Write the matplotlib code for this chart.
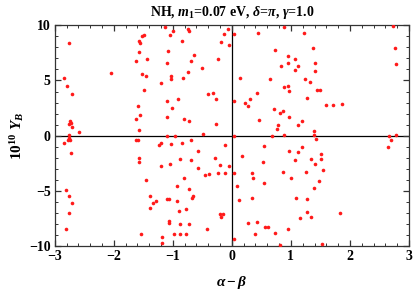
import matplotlib
matplotlib.use("Agg")
import matplotlib.pyplot as plt
from matplotlib.ticker import MultipleLocator

plt.rcParams['font.family'] = ['Liberation Serif', 'DejaVu Serif']
plt.rcParams['mathtext.fontset'] = 'custom'
plt.rcParams['mathtext.rm'] = 'Liberation Serif:bold'
plt.rcParams['mathtext.it'] = 'Liberation Serif:italic:bold'
plt.rcParams['mathtext.bf'] = 'Liberation Serif:bold'

title = r"NH, $m_1$=0.07 eV, $\delta$=$\pi$, $\gamma$=1.0"
xlabel = r"$\alpha-\beta$"
ylabel = r"$10^{10}\ Y_B$"
xticks = [-3, -2, -1, 0, 1, 2, 3]
yticks = [-10, -5, 0, 5, 10]

alpha_minus_beta = [
    -2.75, -2.05, -2.85, -2.79, -2.71, -2.74, -2.76, -2.72, -2.71, -2.59, -2.76, -2.76, -2.77, -2.74, -2.85,
    -1.62, -1.59, -1.57, -1.58, -1.62, -1.59, -1.55, -1.63, -1.58,
    -1.13, -0.99, -0.75, -0.72, -0.06, -1.49, -1.52, -1.05, -0.13, -1.55, -0.85, -0.19, -0.05, 0.03, 0.44,
    -1.08, -1.44, -1.10, -0.64, -0.70, -0.23, -0.51, -0.75, -1.52, -1.46, -1.03, -1.03, -0.83, -1.20, 0.14,
    0.64, -1.49, -0.32, -0.40, -0.26, -0.91, -1.10, 0.03, 0.30, 0.23, 0.28, 0.42, -1.01, -1.10, -0.81, -0.72,
    -0.27, 0.46, -0.48, -1.10, -0.97, -0.69, 0.03, -1.20, -1.24, -1.03, -0.85, -0.11, 0.55,
    -0.57, -1.58, -1.58, -1.20, -1.05, -0.88, -0.70, -0.28, 0.17, 0.53, -0.20, -0.05, -0.57, -0.46, -0.38,
    -0.23, -0.11, 0.03, 0.34, 0.36, -0.81, -1.46, 0.55, -0.93, 0.08, -0.72, -1.38, -0.68, -0.65, -1.09,
    -1.06, -0.93, 0.12, 0.34, -1.29, -1.34, -1.38, -0.90, -0.77, -0.20, -0.15, -0.19, -1.07, -1.07, -0.88,
    -0.72, -0.42, 0.28, 0.42, -1.53, -0.98, -0.88, -0.77, -1.18, -1.18, 0.40, 0.03,
    -2.73, -2.81, -2.75, -2.71, -2.75, -2.81,
    0.89, 1.22, 2.73, 0.73, 1.38, 2.76, 0.95, 1.07, 0.95, 1.41, 2.78, 0.84, 1.12, 1.07, 1.41, 1.24, 1.32,
    0.89, 0.95, 0.97, 1.45, 1.50, 1.28, 1.59, 1.71, 1.86, 0.71, 0.87, 0.81, 0.97, 1.19, 1.12, 0.78, 0.77,
    1.39, 0.89, 1.39, 1.43, 0.68, 2.67, 2.70, 2.78, 1.19, 2.64,
    0.97, 1.12, 1.07, 1.34, 1.51, 1.51, 1.41, 1.55, 0.87, 1.26, 1.00, 1.47, 1.39, 1.08, 1.28, 1.28, 1.34,
    1.15, 1.83, 0.57, 0.62, 0.73, 0.95, 0.81, 1.53,
]
yb = [
    8.36, 5.64, 5.2, 4.5, 3.75, 1.3, 1.1, 1.15, 0.8, 0.3, 0.05, -0.2, -0.4, -0.4, -0.66,
    -0.35, -0.35, 8.6, 7.6, 6.8, 2.7, 1.85, 1.5, 0.5,
    9.8, 9.5, 9.7, 9.5, 9.7, 9.1, 9.0, 9.1, 9.2, 8.4, 8.6, 8.5, 8.2, 9.2, 9.3,
    7.7, 6.9, 6.6, 7.3, 6.8, 6.9, 6.15, 5.75, 5.55, 5.45, 5.45, 5.1, 5.2, 4.8, 5.2,
    5.1, 4.1, 3.9, 3.75, 3.3, 3.3, 3.1, 3.1, 3.3, 3.0, 2.65, 3.9, 2.5, 1.7, 1.55, 1.35,
    1.1, 1.4, 0.15, 0.0, 0.0, -0.35, 0.0, -0.66, -0.88, -0.75, -0.66, -0.88, -0.97,
    -1.43, -2.0, -2.35, -2.75, -2.6, -2.1, -2.25, -2.0, -1.8, -2.35, -2.65, -2.75, -2.9, -3.6, -3.5,
    -3.4, -3.4, -3.4, -3.4, -3.8, -3.8, -4.0, -4.25, -4.55, -4.55, -4.85, -5.5, -5.65, -5.5, -5.7,
    -5.7, -5.9, -5.8, -5.65, -5.95, -6.1, -6.55, -6.8, -6.65, -7.1, -7.1, -7.4, -7.7, -7.9, -8.05,
    -8.05, -8.45, -7.9, -7.8, -8.95, -8.9, -8.9, -8.95, -9.2, -9.7, -8.9, -9.4,
    -1.55, -4.9, -5.5, -6.1, -7.0, -8.45,
    9.85, 9.3, 9.9, 7.8, 7.95, 7.95, 7.2, 6.9, 6.6, 6.6, 6.5, 6.35, 6.3, 5.95, 5.85, 5.1, 4.9,
    4.4, 4.5, 4.05, 4.15, 4.15, 3.4, 2.8, 2.8, 2.9, 2.45, 2.25, 2.05, 1.65, 1.35, 1.0, 1.0, 0.6,
    0.45, 0.1, 0.05, -0.3, 0.0, 0.0, -0.35, 0.05, -1.05, -1.05,
    -1.4, -1.5, -2.25, -2.1, -1.65, -2.1, -2.6, -3.1, -3.3, -3.3, -3.8, -4.15, -4.75, -5.65, -5.7, -6.9, -7.4,
    -7.5, -7.0, -8.25, -8.25, -8.8, -8.45, -9.9, -9.8,
]

fig = plt.figure(figsize=(4.15, 2.92), dpi=100)
ax = fig.add_axes([0.1318, 0.1575, 0.8537, 0.7559])
ax.axhline(0, color='black', lw=0.9, zorder=1)
ax.axvline(0, color='black', lw=0.9, zorder=1)
ax.plot(alpha_minus_beta, yb, 'o', color='#ff1a1a', markersize=2.6, markeredgewidth=0, zorder=3)
ax.set_xlim(-3, 3)
ax.set_ylim(-10, 10)
ax.set_xticks(xticks)
ax.set_yticks(yticks)
ax.set_xticklabels([str(v).replace('-', '\u2212') for v in xticks])
ax.set_yticklabels([str(v).replace('-', '\u2212') for v in yticks])
ax.xaxis.set_minor_locator(MultipleLocator(0.2))
ax.yaxis.set_minor_locator(MultipleLocator(1))
ax.tick_params(which='both', direction='in', top=True, right=True, color='#333333')
ax.tick_params(which='major', length=4, width=0.9, labelsize=10, pad=3)
ax.tick_params(which='minor', length=2.2, width=0.7)
for lab in ax.get_xticklabels() + ax.get_yticklabels():
    lab.set_fontweight('bold')
for s in ax.spines.values():
    s.set_linewidth(0.9)
    s.set_color('#333333')
ax.set_title(title, fontsize=10, fontweight='bold', pad=7)
ax.set_xlabel(xlabel, fontsize=11, labelpad=8)
ax.set_ylabel(ylabel, fontsize=11, labelpad=2)
fig.savefig("out.png", dpi=100)
